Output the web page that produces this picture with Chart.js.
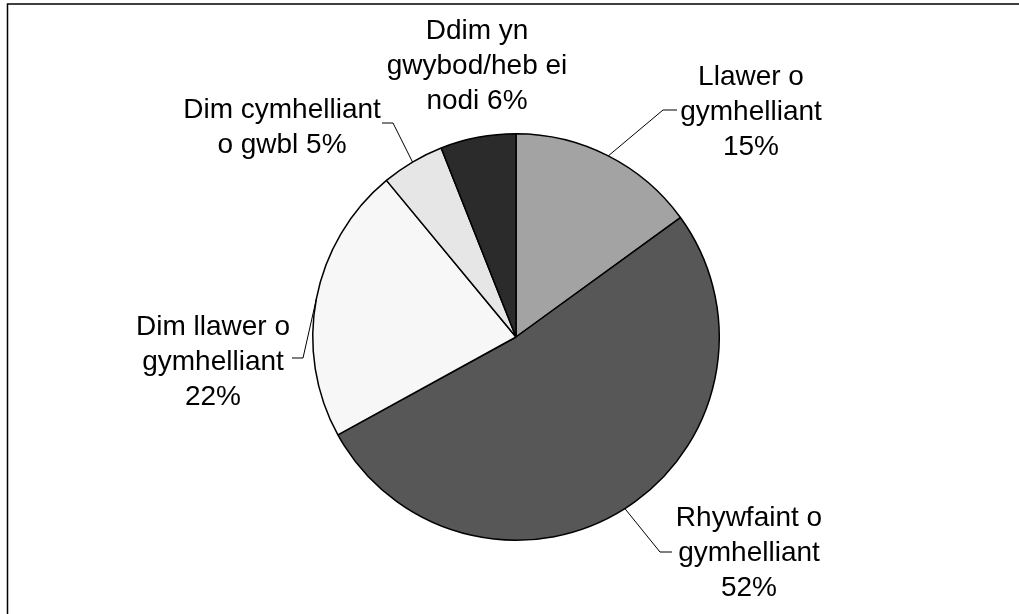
<!DOCTYPE html>
<html>
<head>
<meta charset="utf-8">
<script src="https://cdn.jsdelivr.net/npm/chart.js@4/dist/chart.umd.min.js"></script>
<style>
html,body{margin:0;padding:0;background:#fff;}
#wrap{width:1019px;height:614px;position:relative;}
</style>
</head>
<body>
<div id="wrap"><canvas id="c" width="1019" height="614"></canvas></div>
<script>
const categories = [
  ["Llawer o", "gymhelliant", "15%"],
  ["Rhywfaint o", "gymhelliant", "52%"],
  ["Dim llawer o", "gymhelliant", "22%"],
  ["Dim cymhelliant", "o gwbl 5%"],
  ["Ddim yn", "gwybod/heb ei", "nodi 6%"]
];
const values = [15, 52, 22, 5, 6];
const colors = ["#a3a3a3", "#575757", "#f7f7f7", "#e6e6e6", "#2b2b2b"];

// label layout (relative to pie centre): text centre x, first baseline y, elbow, line end
const labelLayout = [
  {tx: 235, ty: -252, elbow: [147, -227], end: [161, -227]},
  {tx: 233, ty: 189, elbow: [144, 215], end: [156, 215]},
  {tx: -303, ty: -2, elbow: [-213, 21], end: [-224, 21]},
  {tx: -234, ty: -219, elbow: [-123, -214], end: [-134, -214]},
  {tx: -39, ty: -298, elbow: null, end: null}
];

const framePlugin = {
  id: 'frame',
  beforeDraw(chart) {
    const ctx = chart.ctx;
    ctx.save();
    ctx.fillStyle = '#fff';
    ctx.fillRect(0, 0, chart.width, chart.height);
    ctx.strokeStyle = '#000';
    ctx.lineWidth = 1.5;
    ctx.beginPath();
    ctx.moveTo(7.5, chart.height);
    ctx.lineTo(7.5, 4);
    ctx.lineTo(chart.width, 4);
    ctx.stroke();
    ctx.restore();
  }
};

const labelPlugin = {
  id: 'labels',
  afterDraw(chart) {
    const ctx = chart.ctx;
    const meta = chart.getDatasetMeta(0);
    ctx.save();
    ctx.font = '28px "Liberation Sans", Arial, sans-serif';
    ctx.fillStyle = '#000';
    ctx.textAlign = 'center';
    ctx.textBaseline = 'alphabetic';
    meta.data.forEach((arc, i) => {
      const p = arc.getProps(['x', 'y', 'startAngle', 'endAngle', 'outerRadius'], true);
      const L = labelLayout[i];
      if (L.elbow) {
        const mid = (p.startAngle + p.endAngle) / 2;
        const ex = p.x + Math.cos(mid) * p.outerRadius;
        const ey = p.y + Math.sin(mid) * p.outerRadius;
        ctx.strokeStyle = '#000';
        ctx.lineWidth = 1;
        ctx.beginPath();
        ctx.moveTo(ex, ey);
        ctx.lineTo(p.x + L.elbow[0], p.y + L.elbow[1]);
        ctx.lineTo(p.x + L.end[0], p.y + L.end[1]);
        ctx.stroke();
      }
      const lines = categories[i];
      lines.forEach((t, k) => {
        ctx.fillText(t, p.x + L.tx, p.y + L.ty + k * 35);
      });
    });
    ctx.restore();
  }
};

new Chart(document.getElementById('c'), {
  type: 'pie',
  data: {
    labels: categories.map(c => c.join(' ')),
    datasets: [{
      data: values,
      backgroundColor: colors,
      borderColor: '#000',
      borderWidth: 1.5
    }]
  },
  options: {
    responsive: false,
    animation: false,
    layout: {padding: {left: 312, right: 299, top: 133, bottom: 73}},
    plugins: {legend: {display: false}, tooltip: {enabled: false}}
  },
  plugins: [framePlugin, labelPlugin]
});
</script>
</body>
</html>
